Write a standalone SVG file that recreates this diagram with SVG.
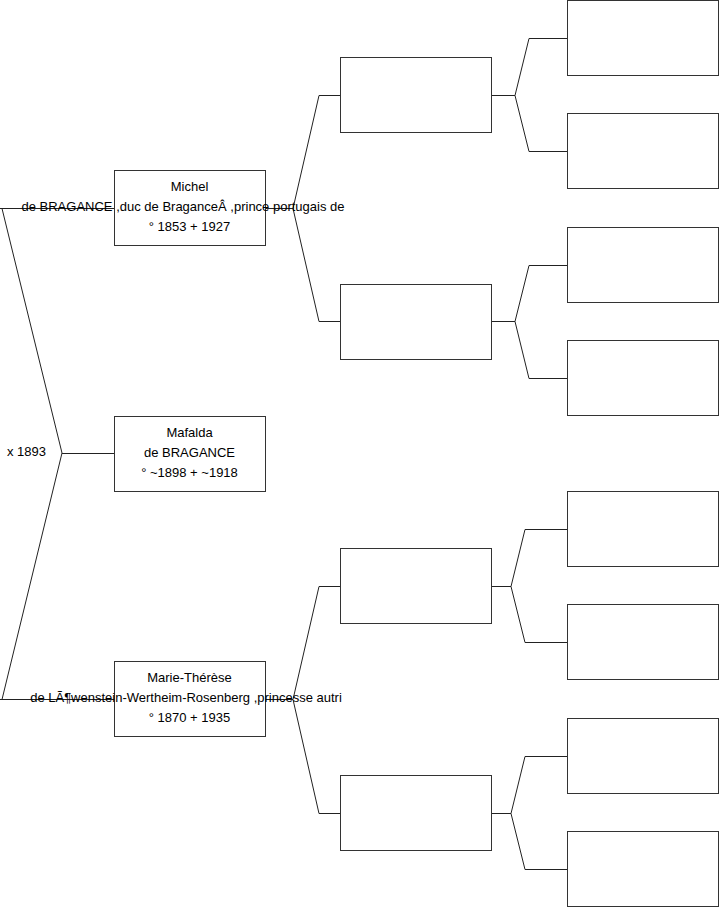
<svg xmlns="http://www.w3.org/2000/svg" width="719" height="908" viewBox="0 0 719 908">
<style>
.box{fill:#fff;stroke:#333;stroke-width:1}
.ln{fill:none;stroke:#222;stroke-width:1}
text{font-family:"Liberation Sans",Arial,sans-serif;font-size:13px;fill:#000}
.c{text-anchor:middle}
</style>
<rect width="719" height="908" fill="#fff"/>
<g id="connectors">
<polyline class="ln" points="114,208.5 0,208.5"/>
<polyline class="ln" points="2,208.5 62,453 2,699.5"/>
<polyline class="ln" points="0,699.5 114,699.5"/>
<line class="ln" x1="62" y1="453.5" x2="114" y2="453.5"/>
<path class="ln" d="M265,208.5H293M340,95.5H319L293,208.5L319,321.5H340"/>
<path class="ln" d="M265,699.5H293M340,586.5H319L293,699.5L319,813.5H340"/>
<path class="ln" d="M492,95.5H515M567,38.5H529L515,95.5L529,151.5H567"/>
<path class="ln" d="M492,321.5H515M567,265.5H529L515,321.5L529,378.5H567"/>
<path class="ln" d="M492,586.5H511M567,529.5H525L511,586.5L525,642.5H567"/>
<path class="ln" d="M492,813.5H511M567,756.5H525L511,813.5L525,869.5H567"/>
</g>
<text x="7" y="456">x 1893</text>
<g id="n-michel">
<rect class="box" x="114.5" y="170.5" width="151" height="75"/>
<text class="c" x="189.5" y="191">Michel</text>
<text class="c" x="183" y="211">de BRAGANCE ,duc de BraganceÂ ,prince portugais de</text>
<text class="c" x="189.5" y="231">° 1853 + 1927</text>
</g>
<g id="n-mafalda">
<rect class="box" x="114.5" y="416.5" width="151" height="75"/>
<text class="c" x="189.5" y="437">Mafalda</text>
<text class="c" x="189.5" y="457">de BRAGANCE</text>
<text class="c" x="189.5" y="477">° ~1898 + ~1918</text>
</g>
<g id="n-marie">
<rect class="box" x="114.5" y="661.5" width="151" height="75"/>
<text class="c" x="189.5" y="682">Marie-Thérèse</text>
<text class="c" x="186" y="702">de LÃ¶wenstein-Wertheim-Rosenberg ,princesse autri</text>
<text class="c" x="189.5" y="722">° 1870 + 1935</text>
</g>
<g id="n-g2a"><rect class="box" x="340.5" y="57.5" width="151" height="75"/></g>
<g id="n-g2b"><rect class="box" x="340.5" y="284.5" width="151" height="75"/></g>
<g id="n-g2c"><rect class="box" x="340.5" y="548.5" width="151" height="75"/></g>
<g id="n-g2d"><rect class="box" x="340.5" y="775.5" width="151" height="75"/></g>
<g id="n-g3a"><rect class="box" x="567.5" y="0.5" width="151" height="75"/></g>
<g id="n-g3b"><rect class="box" x="567.5" y="113.5" width="151" height="75"/></g>
<g id="n-g3c"><rect class="box" x="567.5" y="227.5" width="151" height="75"/></g>
<g id="n-g3d"><rect class="box" x="567.5" y="340.5" width="151" height="75"/></g>
<g id="n-g3e"><rect class="box" x="567.5" y="491.5" width="151" height="75"/></g>
<g id="n-g3f"><rect class="box" x="567.5" y="604.5" width="151" height="75"/></g>
<g id="n-g3g"><rect class="box" x="567.5" y="718.5" width="151" height="75"/></g>
<g id="n-g3h"><rect class="box" x="567.5" y="831.5" width="151" height="75"/></g>
</svg>
